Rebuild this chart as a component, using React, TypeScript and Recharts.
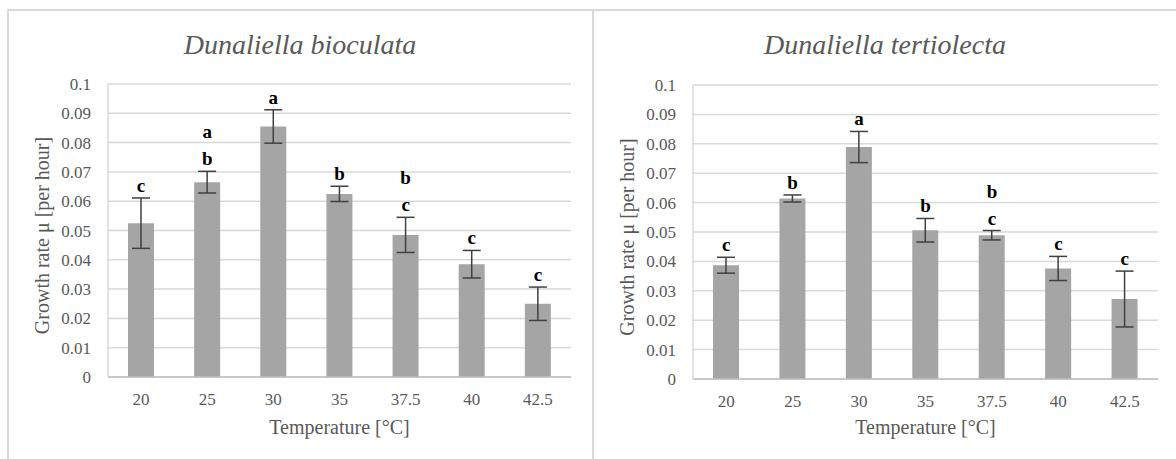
import {
  ComposedChart,
  Bar,
  Line,
  XAxis,
  YAxis,
  CartesianGrid,
  ErrorBar,
  Label,
  LabelList
} from 'recharts'

// temperature classes on the x axis
const temperatures = ['20', '25', '30', '35', '37.5', '40', '42.5']

// Dunaliella bioculata: mean growth rate, error and significance letters
const bioculataRate = [0.0525, 0.0665, 0.0855, 0.0625, 0.0485, 0.0385, 0.025]
const bioculataError = [0.0086, 0.0037, 0.0057, 0.0026, 0.006, 0.0047, 0.0057]
const bioculataLetters = ['c', 'ab', 'a', 'b', 'bc', 'c', 'c']

// Dunaliella tertiolecta
const tertiolectaRate = [0.0387, 0.0614, 0.0789, 0.0506, 0.0489, 0.0376, 0.0272]
const tertiolectaError = [0.0027, 0.0012, 0.0053, 0.004, 0.0016, 0.0041, 0.0095]
const tertiolectaLetters = ['c', 'b', 'a', 'b', 'bc', 'c', 'c']

const yTicks = [0, 0.01, 0.02, 0.03, 0.04, 0.05, 0.06, 0.07, 0.08, 0.09, 0.1]

const FONT = '"Liberation Serif", "Times New Roman", serif'
const GREY = '#595959'

const buildRows = (rates: number[], errors: number[], letters: string[]) =>
  temperatures.map((t, i) => ({
    temp: t,
    rate: rates[i],
    err: errors[i],
    top: rates[i] + errors[i],
    letters: letters[i]
  }))

// letters stacked above the error bar, last letter closest to the bar
const renderLetters = (props: any) => {
  const { x, y, value, index } = props
  const chars = String(value).split('')
  return (
    <g key={`lt-${index}`}>
      {chars.map((c, i) => (
        <text
          key={i}
          x={x}
          y={y - 6 - (chars.length - 1 - i) * 27}
          textAnchor="middle"
          fontFamily={FONT}
          fontWeight="bold"
          fontSize={19}
          fill="#000"
        >
          {c}
        </text>
      ))}
    </g>
  )
}

type PanelProps = {
  title: string
  rows: any[]
  left: number
  width: number
  top: number
  right: number
  axisWidth: number
  xAxisHeight: number
  titleCenter: number
  yTitleX: number
}

const Panel = ({ title, rows, left, width, top, right, axisWidth, xAxisHeight, titleCenter, yTitleX }: PanelProps) => (
  <div style={{ position: 'absolute', left, top: 0, width, height: 459 }}>
    <div
      style={{
        position: 'absolute',
        left: titleCenter - 200,
        width: 400,
        top: 27,
        textAlign: 'center',
        fontFamily: FONT,
        fontStyle: 'italic',
        fontSize: 28,
        color: GREY,
        lineHeight: '36px'
      }}
    >
      {title}
    </div>
    <ComposedChart
      width={width}
      height={459}
      data={rows}
      margin={{ top, right, bottom: 0, left: 0 }}
    >
      <CartesianGrid vertical={false} stroke="#d9d9d9" strokeWidth={1.5} />
      <XAxis
        dataKey="temp"
        height={xAxisHeight}
        axisLine={{ stroke: '#bfbfbf', strokeWidth: 1.5 }}
        tickLine={false}
        tickSize={0}
        tickMargin={16}
        tick={{ fontSize: 17, fill: GREY, fontFamily: FONT }}
      >
        <Label
          value="Temperature [°C]"
          position="insideBottom"
          offset={25}
          style={{ fontSize: 20, fill: GREY, fontFamily: FONT }}
        />
      </XAxis>
      <YAxis
        width={axisWidth}
        domain={[0, 0.1]}
        ticks={yTicks}
        interval={0}
        axisLine={{ stroke: '#d9d9d9', strokeWidth: 1.5 }}
        tickLine={false}
        tickSize={0}
        tickMargin={17}
        tick={{ fontSize: 17, fill: GREY, fontFamily: FONT }}
      >
        <Label
          content={(p: any) => {
            const vb = p.viewBox || { x: 0, y: top, width: axisWidth, height: 294 }
            const cx = vb.x + yTitleX
            const cy = vb.y + vb.height / 2 + 5
            return (
              <text
                transform={`translate(${cx}, ${cy}) rotate(-90)`}
                x={0}
                y={0}
                textAnchor="middle"
                fontFamily={FONT}
                fontSize={20}
                fill={GREY}
              >
                Growth rate μ [per hour]
              </text>
            )
          }}
        />
      </YAxis>
      <Bar dataKey="rate" fill="#a5a5a5" barSize={26} isAnimationActive={false}>
        <ErrorBar
          dataKey="err"
          width={9}
          stroke="#404040"
          strokeWidth={1.5}
          direction="y"
          isAnimationActive={false}
        />
      </Bar>
      <Line
        dataKey="top"
        stroke="none"
        dot={false}
        activeDot={false}
        legendType="none"
        isAnimationActive={false}
      >
        <LabelList dataKey="letters" content={renderLetters} />
      </Line>
    </ComposedChart>
  </div>
)

export default function App() {
  return (
    <div
      style={{
        position: 'absolute',
        left: 0,
        top: 0,
        width: 1176,
        height: 459,
        overflow: 'hidden',
        background: '#fff'
      }}
    >
      <Panel
        title="Dunaliella bioculata"
        rows={buildRows(bioculataRate, bioculataError, bioculataLetters)}
        left={0}
        width={593}
        top={84}
        right={22}
        axisWidth={108}
        xAxisHeight={82}
        titleCenter={300}
        yTitleX={49}
      />
      <Panel
        title="Dunaliella tertiolecta"
        rows={buildRows(tertiolectaRate, tertiolectaError, tertiolectaLetters)}
        left={593}
        width={583}
        top={85}
        right={18}
        axisWidth={100}
        xAxisHeight={80}
        titleCenter={292}
        yTitleX={41}
      />
      {/* panel frames */}
      <div style={{ position: 'absolute', left: 7, top: 9, width: 1169, height: 2, background: '#d9d9d9' }} />
      <div style={{ position: 'absolute', left: 7, top: 9, width: 2, height: 450, background: '#d9d9d9' }} />
      <div style={{ position: 'absolute', left: 592, top: 9, width: 2, height: 450, background: '#d9d9d9' }} />
    </div>
  )
}
